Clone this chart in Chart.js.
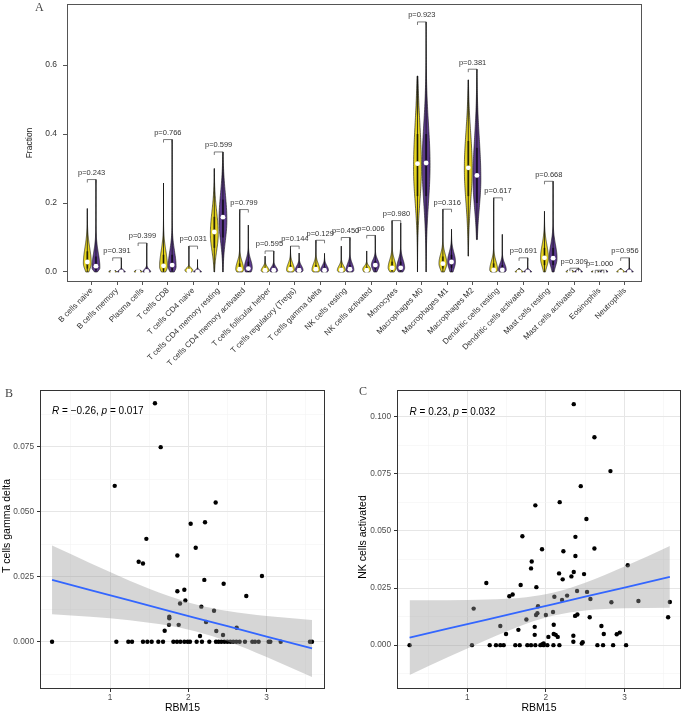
<!DOCTYPE html>
<html>
<head>
<meta charset="utf-8">
<script src="https://cdn.jsdelivr.net/npm/chart.js@4.4.1/dist/chart.umd.min.js"></script>
<style>
  body { margin: 0; background: #fff; }
  #wrap { position: relative; width: 685px; height: 713px; overflow: hidden; background: #fff; }
  canvas { position: absolute; }
  .tag { position: absolute; font-family: 'Liberation Serif', 'DejaVu Serif', serif; font-size: 12px; color: #444; }
</style>
</head>
<body>
<div id="wrap">
  <canvas id="violinChart" width="685" height="385" style="left:0;top:0"></canvas>
  <canvas id="gdChart" width="340" height="333" style="left:0;top:380px"></canvas>
  <canvas id="nkChart" width="345" height="333" style="left:340px;top:380px"></canvas>
  <div class="tag" style="left:35px;top:0px">A</div>
  <div class="tag" style="left:5px;top:386px">B</div>
  <div class="tag" style="left:359px;top:384px">C</div>
</div>
<script>
// ---- Panel A: immune cell fractions, low vs high RBM15 ----
const cellTypes = ['B cells naive', 'B cells memory', 'Plasma cells', 'T cells CD8', 'T cells CD4 naive',
  'T cells CD4 memory resting', 'T cells CD4 memory activated', 'T cells follicular helper',
  'T cells regulatory (Tregs)', 'T cells gamma delta', 'NK cells resting', 'NK cells activated',
  'Monocytes', 'Macrophages M0', 'Macrophages M1', 'Macrophages M2', 'Dendritic cells resting',
  'Dendritic cells activated', 'Mast cells resting', 'Mast cells activated', 'Eosinophils', 'Neutrophils'];
const pValues = ['0.243', '0.391', '0.399', '0.766', '0.031', '0.599', '0.799', '0.595', '0.144', '0.129', '0.450',
  '0.006', '0.980', '0.923', '0.316', '0.381', '0.617', '0.691', '0.668', '0.309', '1.000', '0.956'];

// yellow group
const lowMin  = [0, 0, 0, 0, 0, 0, 0, 0, 0, 0, 0, 0, 0, 0, 0, 0.046, 0, 0, 0, 0, 0, 0];
const lowQ1   = [0.010, 0, 0, 0.004, 0, 0.07, 0, 0, 0, 0, 0, 0, 0.003, 0.22, 0.010, 0.22, 0, 0, 0.02, 0, 0, 0];
const lowMed  = [0.029, 0, 0, 0.018, 0.003, 0.116, 0.008, 0.005, 0.008, 0.008, 0.006, 0.005, 0.012, 0.314, 0.024, 0.302, 0.006, 0, 0.041, 0, 0, 0];
const lowQ3   = [0.06, 0, 0, 0.05, 0.01, 0.16, 0.025, 0.012, 0.02, 0.02, 0.015, 0.015, 0.03, 0.40, 0.045, 0.38, 0.025, 0, 0.07, 0, 0, 0.002];
const lowMax  = [0.184, 0.004, 0.005, 0.258, 0.075, 0.300, 0.181, 0.046, 0.075, 0.092, 0.075, 0.061, 0.149, 0.568, 0.182, 0.557, 0.215, 0.010, 0.176, 0.005, 0.003, 0.010];
const lowMode = [0.025, 0, 0, 0.015, 0.005, 0.11, 0.008, 0.004, 0.006, 0.006, 0.005, 0.008, 0.012, 0.30, 0.025, 0.30, 0.006, 0, 0.04, 0, 0, 0];

// purple group
const highMin  = [0, 0, 0, 0, 0, 0, 0, 0, 0, 0, 0, 0, 0, 0, 0, 0.094, 0, 0, 0, 0, 0, 0];
const highQ1   = [0.005, 0, 0, 0.004, 0, 0.10, 0, 0, 0, 0, 0, 0.008, 0.003, 0.22, 0.012, 0.20, 0, 0, 0.02, 0, 0, 0];
const highMed  = [0.017, 0, 0.002, 0.02, 0, 0.159, 0.01, 0.005, 0.005, 0.005, 0.008, 0.020, 0.012, 0.316, 0.029, 0.28, 0.006, 0, 0.040, 0, 0, 0];
const highQ3   = [0.045, 0.002, 0.006, 0.05, 0.003, 0.21, 0.03, 0.012, 0.015, 0.015, 0.02, 0.032, 0.03, 0.40, 0.05, 0.36, 0.02, 0.003, 0.07, 0, 0, 0.003];
const highMax  = [0.268, 0.041, 0.084, 0.384, 0.036, 0.348, 0.136, 0.061, 0.055, 0.054, 0.100, 0.106, 0.142, 0.725, 0.124, 0.588, 0.109, 0.041, 0.263, 0.011, 0.005, 0.041];
const highMode = [0.012, 0, 0, 0.015, 0, 0.15, 0.012, 0.004, 0.005, 0.005, 0.006, 0.02, 0.012, 0.31, 0.03, 0.27, 0.006, 0, 0.04, 0, 0, 0];

const fractionTicks = [0, 0.2, 0.4, 0.6];
const fractionLabels = ['0.0', '0.2', '0.4', '0.6'];

// ---- Panel B: RBM15 vs T cells gamma delta ----
const gdX = [1.574, 1.647, 1.06, 2.349, 2.03, 2.213, 1.464, 2.094, 1.86, 1.366, 1.421, 2.94, 2.204, 2.451, 1.949,
  1.86, 2.74, 1.962, 1.894, 2.166, 2.328, 1.757, 1.757, 2.226, 1.753, 1.877, 2.617, 1.698, 2.357, 2.443, 2.149,
  0.26, 1.081, 1.234, 1.281, 1.421, 1.477, 1.532, 1.617, 1.677, 1.809, 1.855, 1.898, 1.949, 1.991, 2.021, 2.106,
  2.174, 2.268, 2.353, 2.387, 2.421, 2.46, 2.498, 2.536, 2.574, 2.613, 2.655, 2.723, 2.817, 2.851, 2.898, 3.026,
  3.047, 3.179, 3.553, 3.579];
const gdY = [0.0918, 0.0749, 0.060, 0.0536, 0.0454, 0.046, 0.0396, 0.0362, 0.0332, 0.0308, 0.0301, 0.0253, 0.0238,
  0.0223, 0.020, 0.0194, 0.0176, 0.0159, 0.0147, 0.0135, 0.0119, 0.0096, 0.009, 0.0076, 0.0065, 0.0065, 0.0054,
  0.0042, 0.0041, 0.0026, 0.0022,
  0, 0, 0, 0, 0, 0, 0, 0, 0, 0, 0, 0, 0, 0, 0, 0, 0, 0, 0, 0, 0, 0, 0, 0, 0, 0, 0, 0, 0, 0, 0, 0, 0, 0, 0, 0];
const gdFitX = [0.26, 0.75, 1.25, 1.75, 2.1, 2.5, 3.0, 3.58];
const gdFit  = [0.0238, 0.0199, 0.0159, 0.0119, 0.0091, 0.0060, 0.0020, -0.0026];
const gdLow  = [0.0106, 0.0096, 0.0083, 0.0062, 0.0039, 0.0002, -0.0059, -0.0136];
const gdHigh = [0.0370, 0.0302, 0.0235, 0.0176, 0.0143, 0.0118, 0.0099, 0.0084];
const gdXTicks = [1, 2, 3];
const gdYTicks = [0, 0.025, 0.05, 0.075];
const gdYLabels = ['0.000', '0.025', '0.050', '0.075'];

// ---- Panel C: RBM15 vs NK cells activated ----
const nkX = [2.355, 2.618, 2.822, 2.444, 2.176, 1.866, 2.516, 1.701, 2.376, 2.618, 1.951, 2.223, 2.376, 1.82, 3.042,
  1.811, 2.355, 2.168, 2.486, 2.325, 2.214, 1.242, 1.679, 1.879, 2.397, 2.524, 1.577, 1.535, 2.108, 2.27, 2.567,
  2.206, 3.578, 3.178, 2.834, 1.9, 1.081, 2.091, 1.892, 1.875, 2.0, 2.401, 2.372, 2.558, 3.556, 1.752, 2.1, 2.707,
  1.42, 1.858, 1.65, 2.1, 1.493, 2.737, 1.858, 2.35, 2.902, 2.941, 2.125, 2.032, 2.151, 2.469, 2.35, 2.457, 1.955,
  1.972,
  0.265, 1.059, 1.285, 1.365, 1.42, 1.463, 1.611, 1.667, 1.764, 1.811, 1.866, 1.93, 1.972, 2.019, 2.096, 2.172,
  2.656, 2.728, 2.856, 3.021];
const nkY = [0.1055, 0.091, 0.0762, 0.0696, 0.0626, 0.0612, 0.0552, 0.0477, 0.0474, 0.0423, 0.042, 0.0411, 0.039,
  0.0366, 0.035, 0.0336, 0.032, 0.0314, 0.0311, 0.0301, 0.0288, 0.0272, 0.0263, 0.0254, 0.0237, 0.0233, 0.0222,
  0.0214, 0.0212, 0.0217, 0.0202, 0.0198, 0.0189, 0.0193, 0.0188, 0.017, 0.016, 0.0145, 0.014, 0.0132, 0.0132,
  0.0134, 0.0128, 0.0122, 0.0122, 0.0112, 0.0089, 0.0084, 0.0084, 0.008, 0.0067, 0.0049, 0.0049, 0.0049, 0.0045,
  0.0041, 0.0048, 0.0055, 0.0045, 0.0036, 0.0036, 0.0013, 0.0015, 0.0007, 0.0004, 0.0007,
  0, 0, 0, 0, 0, 0, 0, 0, 0, 0, 0, 0, 0, 0, 0, 0, 0, 0, 0, 0];
const nkFitX = [0.265, 0.75, 1.25, 1.75, 2.1, 2.5, 3.0, 3.578];
const nkFit  = [0.0033, 0.0072, 0.0112, 0.0152, 0.0180, 0.0212, 0.0252, 0.0299];
const nkLow  = [-0.0131, -0.0053, 0.0024, 0.0094, 0.0130, 0.0152, 0.0161, 0.0164];
const nkHigh = [0.0197, 0.0197, 0.0200, 0.0210, 0.0230, 0.0273, 0.0344, 0.0434];
const nkXTicks = [1, 2, 3];
const nkYTicks = [0, 0.025, 0.05, 0.075, 0.1];
const nkYLabels = ['0.000', '0.025', '0.050', '0.075', '0.100'];

const FONT = "'Liberation Sans', Arial, sans-serif";
Chart.defaults.font.family = FONT;
Chart.defaults.animation = false;

const yellow = '#E6D420';
const purple = '#5C3A8D';
const SHIFT = 0.17;

// scales keep their own label padding out of the fixed layout
const noPad = s => { s.paddingTop = 0; s.paddingBottom = 0; s.paddingLeft = 0; s.paddingRight = 0; };

function drawViolin(ctx, xs, ys, xc, s, color) {
  const cx = xs.getPixelForValue(xc);
  const half = xs.getPixelForValue(xc + 0.155) - cx;
  const top = Math.max(s.max, s.min + 0.002);
  const sdUp = Math.max(s.q3 - s.mode, 0.004) * 1.3;
  const sdDown = Math.max(s.mode - s.q1, 0.004) * 1.2;
  const n = 80, pts = [];
  for (let k = 0; k <= n; k++) {
    const v = s.min + (top - s.min) * k / n;
    const d = v < s.mode ? (s.mode - v) / sdDown : (v - s.mode) / sdUp;
    pts.push([ys.getPixelForValue(v), half * Math.exp(-0.5 * d * d)]);
  }
  const y0 = ys.getPixelForValue(s.min), y1 = ys.getPixelForValue(top);
  const g = ctx.createLinearGradient(0, y0, 0, y1);
  const tq = Math.min(0.95, Math.max(0.05, (s.q3 + (top - s.q3) * 0.3 - s.min) / (top - s.min)));
  g.addColorStop(0, color);
  g.addColorStop(tq, color);
  g.addColorStop(1, '#1a1a1a');
  ctx.beginPath();
  pts.forEach((p, k) => k ? ctx.lineTo(cx - p[1], p[0]) : ctx.moveTo(cx - p[1], p[0]));
  for (let k = pts.length - 1; k >= 0; k--) ctx.lineTo(cx + pts[k][1], pts[k][0]);
  ctx.closePath();
  ctx.fillStyle = g;
  ctx.fill();
  ctx.lineWidth = 0.6;
  ctx.strokeStyle = '#111';
  ctx.stroke();
  // thin whisker + box
  ctx.beginPath();
  ctx.moveTo(cx, y0);
  ctx.lineTo(cx, y1);
  ctx.lineWidth = 0.8;
  ctx.stroke();
  if (s.q3 > s.q1) {
    ctx.beginPath();
    ctx.moveTo(cx, ys.getPixelForValue(s.q1));
    ctx.lineTo(cx, ys.getPixelForValue(s.q3));
    ctx.lineWidth = 2;
    ctx.strokeStyle = 'rgba(0,0,0,0.55)';
    ctx.stroke();
  }
}

const violinPlugin = {
  id: 'violins',
  beforeDatasetsDraw(chart) {
    const {ctx, scales: {x, y}, chartArea: a} = chart;
    ctx.save();
    ctx.beginPath();
    ctx.rect(a.left, a.top, a.width, a.height);
    ctx.clip();
    cellTypes.forEach((c, i) => {
      drawViolin(ctx, x, y, i + 1 - SHIFT,
        {min: lowMin[i], q1: lowQ1[i], med: lowMed[i], q3: lowQ3[i], max: lowMax[i], mode: lowMode[i]}, yellow);
      drawViolin(ctx, x, y, i + 1 + SHIFT,
        {min: highMin[i], q1: highQ1[i], med: highMed[i], q3: highQ3[i], max: highMax[i], mode: highMode[i]}, purple);
    });
    ctx.restore();
  },
  afterDatasetsDraw(chart) {
    const {ctx, scales: {x, y}, chartArea: a} = chart;
    ctx.save();
    ctx.strokeStyle = '#444';
    ctx.lineWidth = 0.7;
    ctx.fillStyle = '#333';
    ctx.font = '7.5px ' + FONT;
    ctx.textAlign = 'center';
    ctx.textBaseline = 'bottom';
    cellTypes.forEach((c, i) => {
      const top = y.getPixelForValue(Math.max(lowMax[i], highMax[i]));
      const xl = x.getPixelForValue(i + 1 - SHIFT), xr = x.getPixelForValue(i + 1 + SHIFT);
      ctx.beginPath();
      ctx.moveTo(xl, top + 3);
      ctx.lineTo(xl, top);
      ctx.lineTo(xr, top);
      ctx.lineTo(xr, top + 3);
      ctx.stroke();
      ctx.fillText('p=' + pValues[i], x.getPixelForValue(i + 1), top - 3);
    });
    ctx.strokeStyle = '#555';
    ctx.lineWidth = 1;
    ctx.strokeRect(a.left + 0.5, a.top + 0.5, a.width - 1, a.height - 1);
    ctx.restore();
  }
};

new Chart(document.getElementById('violinChart'), {
  type: 'scatter',
  data: {
    datasets: [
      {label: 'Low', data: lowMed.map((v, i) => ({x: i + 1 - SHIFT, y: v})),
       pointRadius: 2.4, pointBackgroundColor: '#fff', pointBorderWidth: 0},
      {label: 'High', data: highMed.map((v, i) => ({x: i + 1 + SHIFT, y: v})),
       pointRadius: 2.4, pointBackgroundColor: '#fff', pointBorderWidth: 0}
    ]
  },
  options: {
    responsive: false,
    devicePixelRatio: 1,
    layout: {padding: {top: 4, right: 43, left: 0, bottom: 0}},
    plugins: {legend: {display: false}, tooltip: {enabled: false}},
    scales: {
      x: {
        type: 'linear', min: 0.03, max: 22.67,
        afterBuildTicks: s => { s.ticks = cellTypes.map((c, i) => ({value: i + 1})); },
        afterFit: s => { s.height = 103; noPad(s); },
        ticks: {
          callback: v => cellTypes[Math.round(v) - 1] || '',
          autoSkip: false, minRotation: 45, maxRotation: 45,
          color: '#333', font: {size: 8}, padding: 1
        },
        grid: {drawOnChartArea: false, tickLength: 3, color: '#555'},
        border: {display: false}
      },
      y: {
        min: -0.029, max: 0.777,
        afterBuildTicks: s => { s.ticks = fractionTicks.map(v => ({value: v})); },
        afterFit: s => { s.width = 67; noPad(s); },
        ticks: {
          callback: v => fractionLabels[fractionTicks.findIndex(t => Math.abs(t - v) < 1e-9)],
          color: '#333', font: {size: 8.5}, padding: 6
        },
        grid: {drawOnChartArea: false, tickLength: 4, color: '#555'},
        border: {display: false},
        title: {display: true, text: 'Fraction', color: '#222', font: {size: 8.5}, padding: {top: 25, bottom: 0}}
      }
    }
  },
  plugins: [violinPlugin]
});

// ---- scatter panels ----
function gridValues(major, lo, hi) {
  const half = (major[1] - major[0]) / 2;
  const out = [];
  const start = Math.ceil((lo - major[0]) / half - 1e-9);
  const end = Math.floor((hi - major[0]) / half + 1e-9);
  for (let k = start; k <= end; k++) out.push(+(major[0] + k * half).toFixed(6));
  return out;
}
const majorIndex = (major, v) => major.findIndex(m => Math.abs(m - v) < 1e-7);

const panelPlugin = {
  id: 'panelDecor',
  afterDatasetsDraw(chart, args, opts) {
    const {ctx, chartArea: a, scales: {x, y}} = chart;
    ctx.save();
    ctx.strokeStyle = '#333';
    ctx.lineWidth = 1;
    ctx.strokeRect(a.left + 0.5, a.top + 0.5, a.width - 1, a.height - 1);
    // correlation label
    let px = x.getPixelForValue(opts.corX);
    const py = y.getPixelForValue(opts.corY) + 8;
    ctx.fillStyle = '#000';
    ctx.textBaseline = 'middle';
    ctx.textAlign = 'left';
    opts.corParts.forEach(p => {
      ctx.font = (p.italic ? 'italic ' : '') + '10px ' + FONT;
      ctx.fillText(p.text, px, py);
      px += ctx.measureText(p.text).width;
    });
    // axis titles
    ctx.font = '10.5px ' + FONT;
    ctx.textAlign = 'center';
    ctx.textBaseline = 'alphabetic';
    ctx.fillText(opts.xTitle, (a.left + a.right) / 2, chart.height - 2);
    ctx.translate(opts.yTitleX, opts.yTitleY);
    ctx.rotate(-Math.PI / 2);
    ctx.textBaseline = 'middle';
    ctx.fillText(opts.yTitle, 0, 0);
    ctx.restore();
  }
};

function scatterPanel(id, cfg) {
  const axis = (major, range, labels) => ({
    type: 'linear', min: range[0], max: range[1],
    afterBuildTicks: s => { s.ticks = gridValues(major, range[0], range[1]).map(v => ({value: v})); },
    ticks: {
      callback: v => { const i = majorIndex(major, v); return i < 0 ? '' : labels[i]; },
      autoSkip: false, maxRotation: 0, color: '#4d4d4d', font: {size: 8.3}
    },
    grid: {
      color: c => c.tick && majorIndex(major, c.tick.value) >= 0 ? '#e6e6e6' : '#f3f3f3',
      lineWidth: c => c.tick && majorIndex(major, c.tick.value) >= 0 ? 1 : 0.6,
      tickColor: c => c.tick && majorIndex(major, c.tick.value) >= 0 ? '#333' : 'rgba(0,0,0,0)',
      tickLength: 3
    },
    border: {display: false}
  });
  const xAxis = axis(cfg.xTicks, cfg.xRange, cfg.xTicks.map(String));
  xAxis.afterFit = s => { s.height = 24; noPad(s); };
  xAxis.ticks.padding = 1;
  const yAxis = axis(cfg.yTicks, cfg.yRange, cfg.yLabels);
  yAxis.afterFit = s => { s.width = cfg.yWidth; noPad(s); };
  yAxis.ticks.padding = 3;

  new Chart(document.getElementById(id), {
    type: 'scatter',
    data: {
      datasets: [
        {label: 'fit', data: cfg.fitX.map((v, i) => ({x: v, y: cfg.fit[i]})), showLine: true,
         pointRadius: 0, borderColor: '#3366FF', borderWidth: 1.8, order: 0},
        {label: 'lower', data: cfg.fitX.map((v, i) => ({x: v, y: cfg.low[i]})), showLine: true,
         pointRadius: 0, borderWidth: 0, borderColor: 'rgba(0,0,0,0)', cubicInterpolationMode: 'monotone',
         fill: false, order: 2},
        {label: 'upper', data: cfg.fitX.map((v, i) => ({x: v, y: cfg.high[i]})), showLine: true,
         pointRadius: 0, borderWidth: 0, borderColor: 'rgba(0,0,0,0)', cubicInterpolationMode: 'monotone',
         fill: '-1', backgroundColor: 'rgba(153,153,153,0.4)', order: 1},
        {label: 'samples', data: cfg.xs.map((v, i) => ({x: v, y: cfg.ys[i]})),
         pointRadius: 2.2, pointBackgroundColor: '#000', pointBorderWidth: 0, order: 3}
      ]
    },
    options: {
      responsive: false,
      devicePixelRatio: 1,
      layout: {padding: cfg.padding},
      plugins: {
        legend: {display: false},
        tooltip: {enabled: false},
        panelDecor: {
          corX: Math.min(...cfg.xs), corY: Math.max(...cfg.ys), corParts: cfg.corParts,
          xTitle: 'RBM15', yTitle: cfg.yTitle, yTitleX: cfg.yTitleX, yTitleY: cfg.yTitleY
        }
      },
      scales: {x: xAxis, y: yAxis}
    },
    plugins: [panelPlugin]
  });
}

scatterPanel('gdChart', {
  xs: gdX, ys: gdY, fitX: gdFitX, fit: gdFit, low: gdLow, high: gdHigh,
  xRange: [0.106, 3.745], yRange: [-0.0182, 0.0969],
  xTicks: gdXTicks, yTicks: gdYTicks, yLabels: gdYLabels,
  yWidth: 40, padding: {top: 10, right: 15, left: 0, bottom: 0},
  yTitle: 'T cells gamma delta', yTitleX: 7, yTitleY: 146,
  corParts: [{text: 'R', italic: true}, {text: ' = \u22120.26, '}, {text: 'p', italic: true}, {text: ' = 0.017'}]
});

scatterPanel('nkChart', {
  xs: nkX, ys: nkY, fitX: nkFitX, fit: nkFit, low: nkLow, high: nkHigh,
  xRange: [0.105, 3.72], yRange: [-0.0192, 0.1117],
  xTicks: nkXTicks, yTicks: nkYTicks, yLabels: nkYLabels,
  yWidth: 57, padding: {top: 10, right: 4, left: 0, bottom: 0},
  yTitle: 'NK cells activated', yTitleX: 23, yTitleY: 157,
  corParts: [{text: 'R', italic: true}, {text: ' = 0.23, '}, {text: 'p', italic: true}, {text: ' = 0.032'}]
});
</script>
</body>
</html>
